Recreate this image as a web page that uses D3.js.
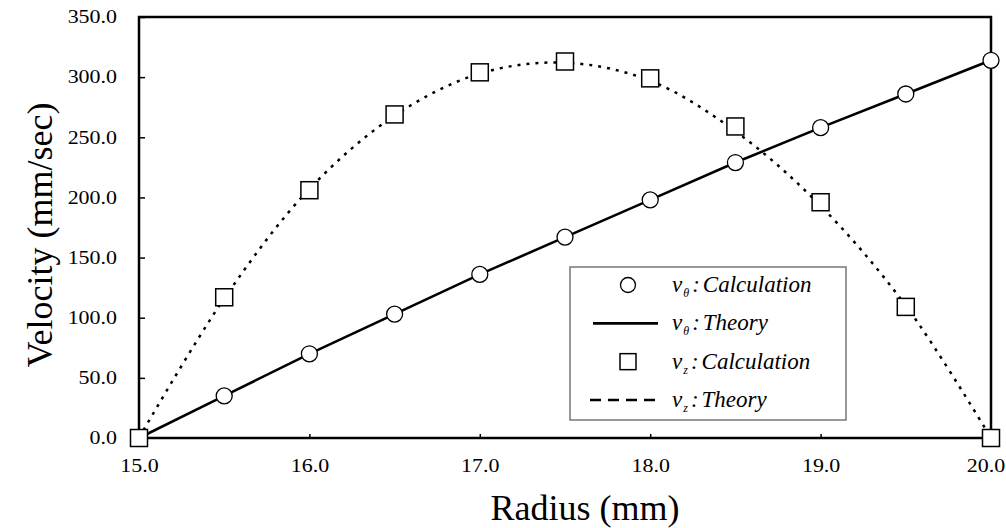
<!DOCTYPE html>
<html>
<head>
<meta charset="utf-8">
<script src="https://cdn.jsdelivr.net/npm/d3@7"></script>
<style>
  html, body { margin: 0; padding: 0; background: #fff; }
  svg { display: block; }
</style>
</head>
<body>
<svg id="chart" width="1006" height="528" font-family="Liberation Serif"></svg>
<script>
// ---- data ----
const radius = [15.0, 15.5, 16.0, 16.5, 17.0, 17.5, 18.0, 18.5, 19.0, 19.5, 20.0];
const vThetaCalc = [0, 35, 70, 103, 136, 167, 198, 229, 258, 286, 314];
const vThetaTheory = [0, 35, 70, 103, 136, 167, 198, 229, 258, 286, 314];
const vzCalc = [0, 117, 206, 269, 304, 313, 299, 259, 196, 109, 0];
const vzTheory = [0, 116, 207, 268, 303, 312, 297, 255, 193, 110, 0];
const xTicks = [15.0, 16.0, 17.0, 18.0, 19.0, 20.0];
const yTicks = [0, 50, 100, 150, 200, 250, 300, 350];
const xTitle = "Radius (mm)";
const yTitle = "Velocity (mm/sec)";

// ---- layout ----
const FONT = "Liberation Serif";
const svg = d3.select("#chart");
const L = 139, R = 991, T = 17, B = 438;
const x = d3.scaleLinear().domain([15, 20]).range([L, R]);
const y = d3.scaleLinear().domain([0, 350]).range([B, T]);
const fmt = d3.format(".1f");
const SX = 1.22; // horizontal stretch of tick labels

// axes (ticks inward)
const xAxis = d3.axisBottom(x).tickValues(xTicks).tickSize(-4).tickFormat(fmt).tickPadding(21);
const yAxis = d3.axisLeft(y).tickValues(yTicks).tickSize(-6).tickFormat(fmt).tickPadding(22 / SX);

const gx = svg.append("g").attr("transform", `translate(0,${B})`).call(xAxis);
const gy = svg.append("g").attr("transform", `translate(${L},0)`).call(yAxis);
[gx, gy].forEach(g => {
  g.attr("font-family", FONT).attr("font-size", 18);
  g.select(".domain").remove();
  g.selectAll(".tick line").attr("stroke", "#000").attr("stroke-width", 1.5);
  g.selectAll(".tick text").attr("font-family", FONT).attr("font-size", 18).attr("fill", "#000")
    .attr("transform", `scale(${SX},1)`);
});
// keep the last x label inside the window
gx.selectAll(".tick text").filter(d => d === 20).attr("dx", -4.5);

// frame
svg.append("rect").attr("x", L).attr("y", T).attr("width", R - L).attr("height", B - T)
  .attr("fill", "none").attr("stroke", "#000").attr("stroke-width", 2.5);

// titles
svg.append("text").attr("x", 585).attr("y", 520).attr("text-anchor", "middle")
  .attr("font-family", FONT).attr("font-size", 36).attr("fill", "#000").text(xTitle);
svg.append("text").attr("transform", `translate(52,235) rotate(-90)`).attr("text-anchor", "middle")
  .attr("font-family", FONT).attr("font-size", 36).attr("fill", "#000").text(yTitle);

// lines
const vzData = radius.map((r, i) => ({ r, v: vzTheory[i] }));
const vtData = radius.map((r, i) => ({ r, v: vThetaTheory[i] }));

svg.append("path").datum(vzData)
  .attr("fill", "none").attr("stroke", "#000").attr("stroke-width", 2.5).attr("stroke-dasharray", "3,6")
  .attr("d", d3.line().x(d => x(d.r)).y(d => y(d.v)).curve(d3.curveCatmullRom.alpha(0.5)));

svg.append("path").datum(vtData)
  .attr("fill", "none").attr("stroke", "#000").attr("stroke-width", 2.6)
  .attr("d", d3.line().x(d => x(d.r)).y(d => y(d.v)));

// markers
svg.append("g").selectAll("circle").data(radius).join("circle")
  .attr("cx", d => x(d)).attr("cy", (d, i) => y(vThetaCalc[i])).attr("r", 8)
  .attr("fill", "#fff").attr("stroke", "#000").attr("stroke-width", 1.3);

const S = 17;
svg.append("g").selectAll("rect").data(radius).join("rect")
  .attr("x", d => x(d) - S / 2).attr("y", (d, i) => y(vzCalc[i]) - S / 2)
  .attr("width", S).attr("height", S)
  .attr("fill", "#fff").attr("stroke", "#000").attr("stroke-width", 1.5);

// legend
const lg = svg.append("g");
lg.append("rect").attr("x", 570).attr("y", 267).attr("width", 276).attr("height", 153)
  .attr("fill", "#fff").attr("stroke", "#777").attr("stroke-width", 1.5);

const legendItems = [
  { sub: "θ", label: "Calculation", type: "circle" },
  { sub: "θ", label: "Theory", type: "solid" },
  { sub: "z", label: "Calculation", type: "square" },
  { sub: "z", label: "Theory", type: "dash" }
];
const rowY = d3.scalePoint().domain(d3.range(legendItems.length)).range([285, 400]);
legendItems.forEach((it, i) => {
  const cy = rowY(i);
  if (it.type === "circle") {
    lg.append("circle").attr("cx", 628).attr("cy", cy).attr("r", 7.5)
      .attr("fill", "#fff").attr("stroke", "#000").attr("stroke-width", 1.3);
  } else if (it.type === "square") {
    lg.append("rect").attr("x", 628 - 8).attr("y", cy - 8).attr("width", 16).attr("height", 16)
      .attr("fill", "#fff").attr("stroke", "#000").attr("stroke-width", 1.5);
  } else {
    lg.append("line").attr("x1", it.type === "dash" ? 590 : 593).attr("x2", 658).attr("y1", cy).attr("y2", cy)
      .attr("stroke", "#000").attr("stroke-width", 2.6)
      .attr("stroke-dasharray", it.type === "dash" ? "11,7" : null);
  }
  const t = lg.append("text").attr("x", 672).attr("y", cy + 7)
    .attr("font-family", FONT).attr("font-size", 23).attr("font-style", "italic").attr("fill", "#000");
  t.append("tspan").text("v");
  t.append("tspan").attr("dy", 5).attr("dx", 1).attr("font-size", 12).text(it.sub);
  t.append("tspan").attr("dy", -5).attr("dx", 3).text(":");
  t.append("tspan").attr("dx", 3).text(it.label);
});
</script>
</body>
</html>
